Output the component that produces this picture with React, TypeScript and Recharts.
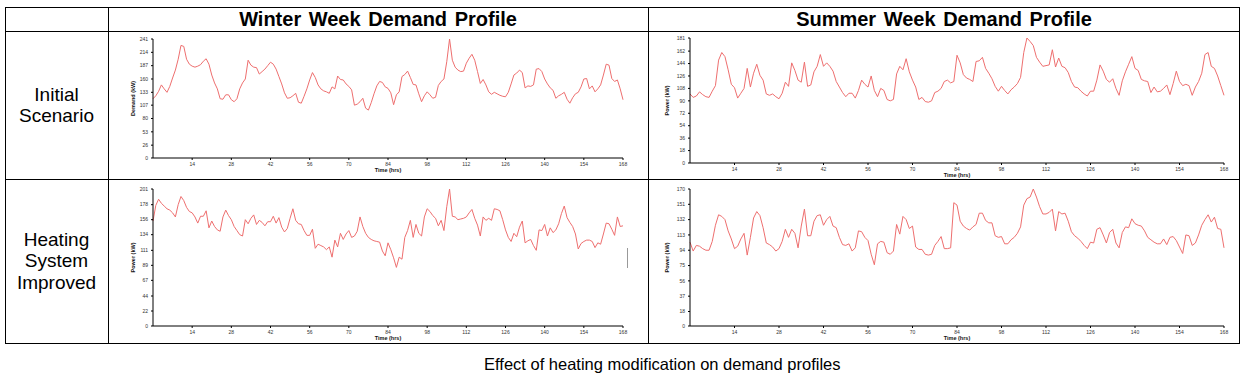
import React from 'react';
import { LineChart, Line, XAxis, YAxis } from 'recharts';

const FONT = '"Liberation Sans", Arial, sans-serif';

// hourly demand, hour 0..168
const winterInitial = [
  120, 126, 135, 148, 140, 133, 145, 162, 178, 200, 228, 226, 200, 190, 186, 184, 186, 189, 196, 201,
  190, 168, 152, 140, 120, 119, 128, 128, 118, 114, 120, 140, 152, 160, 198, 188, 184, 183, 170, 175,
  180, 187, 194, 190, 180, 165, 150, 132, 121, 122, 126, 131, 113, 111, 125, 140, 158, 173, 163, 148,
  140, 136, 134, 131, 144, 140, 166, 159, 158, 150, 145, 138, 107, 109, 114, 121, 101, 97, 112, 130,
  146, 155, 153, 144, 141, 132, 108, 128, 134, 165, 169, 176, 163, 149, 148, 130, 114, 126, 134, 128,
  121, 123, 147, 155, 160, 195, 241, 198, 184, 178, 175, 176, 192, 202, 210, 198, 175, 151, 159, 148,
  134, 129, 133, 130, 127, 125, 124, 133, 150, 168, 172, 178, 173, 142, 146, 145, 148, 180, 181, 175,
  160, 150, 142, 137, 121, 126, 129, 133, 119, 111, 122, 130, 133, 144, 160, 161, 140, 146, 134, 140,
  148, 168, 190, 188, 161, 155, 158, 140, 118,
];

const summerInitial = [
  100, 95, 97, 103, 99, 96, 95, 104, 112, 149, 160, 154, 135, 114, 109, 94, 101, 108, 137, 110,
  130, 143, 127, 120, 100, 98, 100, 96, 93, 101, 117, 111, 145, 134, 120, 117, 146, 111, 113, 132,
  140, 157, 140, 145, 140, 133, 118, 110, 102, 96, 101, 101, 94, 105, 120, 114, 110, 126, 105, 96,
  108, 105, 92, 90, 92, 129, 140, 135, 151, 132, 120, 110, 92, 95, 89, 88, 90, 102, 104, 108,
  118, 120, 116, 118, 156, 145, 128, 123, 121, 118, 147, 148, 153, 137, 130, 122, 111, 104, 111, 105,
  100, 106, 110, 115, 124, 160, 181, 176, 170, 153, 146, 140, 141, 142, 164, 139, 152, 140, 138, 131,
  118, 110, 109, 104, 100, 97, 104, 104, 120, 142, 133, 121, 117, 122, 108, 98, 119, 132, 143, 154,
  137, 134, 121, 119, 118, 102, 110, 103, 104, 108, 113, 99, 115, 133, 118, 112, 114, 112, 98, 110,
  118, 130, 157, 160, 140, 137, 126, 112, 98,
];

const winterImproved = [
  154, 177, 186, 180, 176, 172, 170, 166, 160, 178, 190, 184, 174, 168, 166, 160, 151, 161, 161, 169,
  144, 154, 146, 141, 139, 160, 170, 162, 156, 146, 140, 134, 132, 156, 150, 158, 163, 149, 155, 152,
  147, 153, 153, 161, 151, 159, 145, 138, 143, 158, 172, 155, 150, 149, 140, 133, 133, 142, 114, 120,
  118, 116, 112, 116, 101, 126, 116, 136, 127, 135, 140, 130, 132, 139, 160, 146, 136, 130, 127, 125,
  124, 123, 110, 103, 122, 112, 100, 86, 101, 98, 130, 140, 155, 130, 149, 136, 132, 160, 172, 168,
  162, 158, 147, 155, 140, 175, 201, 161, 160, 156, 157, 158, 160, 166, 171, 158, 148, 132, 160, 155,
  158, 155, 172, 171, 169, 156, 141, 130, 124, 136, 131, 145, 154, 122, 125, 127, 118, 111, 141, 140,
  149, 132, 144, 137, 141, 150, 165, 176, 159, 152, 146, 135, 113, 121, 124, 126, 126, 124, 115, 122,
  120, 135, 151, 150, 142, 133, 160, 146, 147,
];

const summerImproved = [
  104, 93, 100, 99, 96, 94, 94, 105, 125, 138, 136, 132, 118, 108, 96, 99, 108, 115, 88, 110,
  134, 142, 137, 122, 103, 101, 98, 93, 96, 105, 120, 110, 120, 115, 97, 124, 145, 112, 112, 130,
  137, 138, 125, 132, 136, 124, 122, 110, 101, 100, 102, 93, 97, 118, 117, 110, 106, 89, 76, 102,
  105, 104, 91, 89, 93, 126, 114, 136, 132, 121, 124, 98, 95, 95, 89, 88, 89, 100, 105, 111,
  96, 96, 97, 153, 150, 130, 124, 121, 119, 123, 126, 140, 140, 131, 128, 128, 112, 110, 111, 102,
  102, 107, 110, 115, 123, 150, 158, 160, 170, 160, 148, 139, 139, 141, 145, 118, 142, 139, 140, 130,
  117, 112, 109, 105, 100, 96, 104, 103, 120, 122, 113, 103, 116, 120, 103, 97, 116, 123, 122, 133,
  127, 125, 124, 118, 110, 107, 104, 102, 102, 108, 101, 110, 111, 106, 98, 90, 113, 112, 100, 103,
  113, 125, 132, 138, 129, 135, 121, 120, 97,
];

const hourTicks = [14, 28, 42, 56, 70, 84, 98, 112, 126, 140, 154, 168];
const winterInitialTicks = [0, 26, 53, 80, 107, 133, 160, 187, 214, 241];
const summerInitialTicks = [0, 18, 36, 54, 72, 90, 108, 126, 144, 162, 181];
const winterImprovedTicks = [0, 22, 44, 67, 89, 111, 134, 156, 178, 201];
const summerImprovedTicks = [0, 18, 37, 56, 75, 94, 113, 132, 151, 170];

const columnTitles = ['Winter Week Demand Profile', 'Summer Week Demand Profile'];
const rowTitles = [['Initial', 'Scenario'], ['Heating', 'System', 'Improved']];
const caption = 'Effect of heating modification on demand profiles';

type PanelProps = {
  values: number[];
  yTicks: number[];
  yTitle: string;
  left: number;
  top: number;
  width: number;
  height: number;
  marginTop: number;
  marginRight: number;
  yWidth: number;
  xHeight: number;
  titleX: number;
};

const DemandPanel = (p: PanelProps) => {
  const data = p.values.map((v, i) => ({ hour: i, kw: v }));
  const yMax = p.yTicks[p.yTicks.length - 1];

  const xTitle = ({ viewBox }: any) => (
    <text
      x={viewBox.x + viewBox.width / 2}
      y={viewBox.y + 14}
      textAnchor="middle"
      fontSize={5.5}
      fontWeight="bold"
      fontFamily={FONT}
      fill="#111"
    >
      Time (hrs)
    </text>
  );

  const yTitle = ({ viewBox }: any) => {
    const cy = viewBox.y + viewBox.height / 2;
    return (
      <text
        x={p.titleX}
        y={cy}
        transform={`rotate(-90 ${p.titleX} ${cy})`}
        textAnchor="middle"
        fontSize={5.5}
        fontWeight="bold"
        fontFamily={FONT}
        fill="#111"
      >
        {p.yTitle}
      </text>
    );
  };

  return (
    <div style={{ position: 'absolute', left: p.left, top: p.top }}>
      <LineChart
        width={p.width}
        height={p.height}
        data={data}
        margin={{ top: p.marginTop, right: p.marginRight, bottom: 0, left: 0 }}
      >
        <XAxis
          dataKey="hour"
          type="number"
          domain={[0, 168]}
          ticks={hourTicks}
          interval={0}
          height={p.xHeight}
          stroke="#000"
          tickSize={2}
          tickMargin={2}
          tick={{ fontSize: 5, fill: '#333', fontFamily: FONT }}
          label={xTitle}
        />
        <YAxis
          type="number"
          domain={[0, yMax]}
          ticks={p.yTicks}
          interval={0}
          width={p.yWidth}
          stroke="#000"
          tickSize={2}
          tickMargin={3}
          tick={{ fontSize: 5, fill: '#333', fontFamily: FONT }}
          label={yTitle}
        />
        <Line
          type="linear"
          dataKey="kw"
          stroke="#ee6f6f"
          strokeWidth={1}
          dot={false}
          isAnimationActive={false}
        />
      </LineChart>
    </div>
  );
};

const line = (left: number, top: number, width: number, height: number) => (
  <div style={{ position: 'absolute', left, top, width, height, background: '#000' }} />
);

export default function App() {
  return (
    <div
      style={{
        position: 'absolute',
        left: 0,
        top: 0,
        width: 1253,
        height: 388,
        background: '#fff',
        fontFamily: FONT,
        color: '#000',
      }}
    >
      {/* table grid */}
      {line(5, 7, 1235, 1)}
      {line(5, 31, 1235, 1)}
      {line(5, 179, 1235, 1)}
      {line(5, 343, 1235, 1)}
      {line(5, 7, 1, 337)}
      {line(108, 7, 1, 337)}
      {line(648, 7, 1, 337)}
      {line(1239, 7, 1, 337)}

      {columnTitles.map((t, i) => (
        <div
          key={t}
          style={{
            position: 'absolute',
            left: i === 0 ? 108 : 648,
            width: i === 0 ? 540 : 592,
            top: 7,
            height: 24,
            lineHeight: '24px',
            textAlign: 'center',
            fontSize: 20,
            fontWeight: 'bold',
            wordSpacing: 2,
          }}
        >
          {t}
        </div>
      ))}

      {rowTitles.map((lines, i) => (
        <div
          key={i}
          style={{
            position: 'absolute',
            left: 5,
            width: 103,
            top: i === 0 ? 31 : 179,
            height: i === 0 ? 148 : 164,
            display: 'flex',
            flexDirection: 'column',
            justifyContent: 'center',
            alignItems: 'center',
            fontSize: 19,
            lineHeight: '21.5px',
          }}
        >
          {lines.map((l) => (
            <div key={l}>{l}</div>
          ))}
        </div>
      ))}

      <DemandPanel
        values={winterInitial}
        yTicks={winterInitialTicks}
        yTitle="Demand (kW)"
        left={108}
        top={31}
        width={540}
        height={148}
        marginTop={8}
        marginRight={25}
        yWidth={45}
        xHeight={21}
        titleX={27}
      />
      <DemandPanel
        values={summerInitial}
        yTicks={summerInitialTicks}
        yTitle="Power (kW)"
        left={648}
        top={31}
        width={592}
        height={148}
        marginTop={7}
        marginRight={16}
        yWidth={42}
        xHeight={16}
        titleX={21}
      />
      <DemandPanel
        values={winterImproved}
        yTicks={winterImprovedTicks}
        yTitle="Power (kW)"
        left={108}
        top={179}
        width={540}
        height={164}
        marginTop={10}
        marginRight={25}
        yWidth={45}
        xHeight={17}
        titleX={27}
      />
      <DemandPanel
        values={summerImproved}
        yTicks={summerImprovedTicks}
        yTitle="Power (kW)"
        left={648}
        top={179}
        width={592}
        height={164}
        marginTop={10}
        marginRight={16}
        yWidth={42}
        xHeight={17}
        titleX={21}
      />

      {/* stray grey mark at the right of the winter improved panel */}
      <div style={{ position: 'absolute', left: 627, top: 248, width: 1, height: 20, background: '#999' }} />

      <div
        style={{
          position: 'absolute',
          left: 484,
          top: 354,
          fontSize: 16.5,
          lineHeight: '20px',
          whiteSpace: 'nowrap',
        }}
      >
        {caption}
      </div>
    </div>
  );
}
